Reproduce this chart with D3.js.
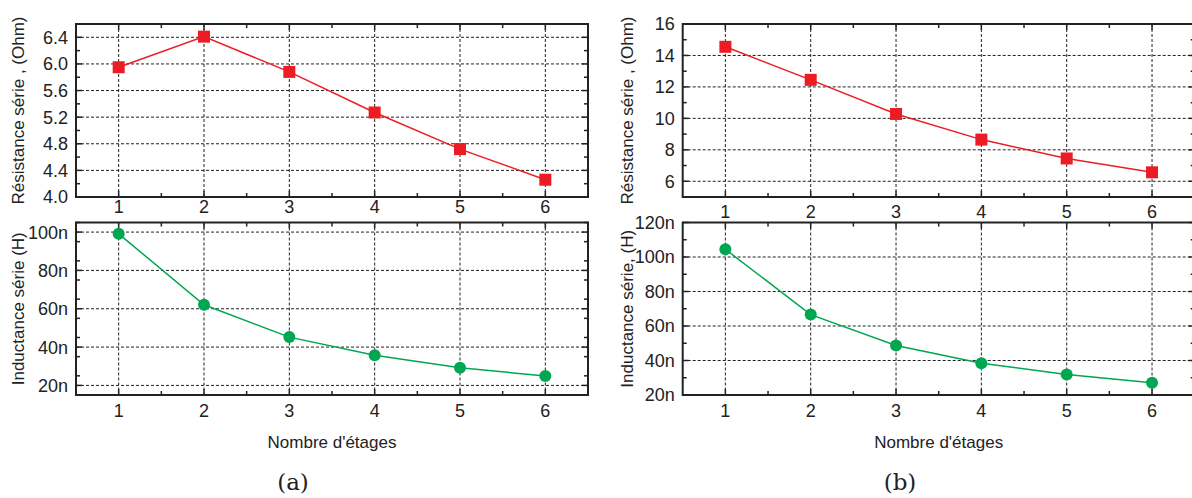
<!DOCTYPE html>
<html><head><meta charset="utf-8">
<script src="https://cdn.jsdelivr.net/npm/d3@7"></script>
<style>body{margin:0;background:#fff}svg{display:block}text{font-family:"Liberation Sans",Arial,sans-serif}text.serif{font-family:"DejaVu Serif",serif}</style>
</head><body>
<svg id="c" width="1192" height="498"></svg>
<script>
const stages = [1, 2, 3, 4, 5, 6];
const resA = [5.95, 6.41, 5.88, 5.27, 4.72, 4.26];
const indA = [99.1, 62.1, 45.2, 35.7, 29.2, 24.9];
const resB = [14.55, 12.45, 10.28, 8.65, 7.45, 6.57];
const indB = [104.5, 66.6, 48.7, 38.4, 31.9, 27.1];
const resATicks = [4.0, 4.4, 4.8, 5.2, 5.6, 6.0, 6.4];
const indATicks = [20, 40, 60, 80, 100];
const resBTicks = [6, 8, 10, 12, 14, 16];
const indBTicks = [20, 40, 60, 80, 100, 120];
const xLabel = "Nombre d'étages";
const resTitle = "Résistance série , (Ohm)";
const indTitleA = "Inductance série (H)";
const indTitleB = "Inductance série, (H)";
const panelLabels = ["(a)", "(b)"];

const RED = "#ed1c24", GREEN = "#00a651";
const svg = d3.select("#c");

function panel(o) {
  const x = d3.scaleLinear().domain([0.5, 6.5]).range([o.left, o.left + 512]);
  const y = d3.scaleLinear().domain(o.ydom).range([o.bottom, o.top]);
  const g = svg.append("g");
  // grid
  g.append("g").selectAll("line").data(stages).join("line")
    .attr("x1", d => x(d)).attr("x2", d => x(d)).attr("y1", o.top).attr("y2", o.bottom)
    .attr("stroke", "#222").attr("stroke-width", 1).attr("stroke-dasharray", "3,2");
  g.append("g").selectAll("line").data(o.yticks.filter(t => t > o.ydom[0] && t < o.ydom[1])).join("line")
    .attr("x1", o.left).attr("x2", o.left + 512).attr("y1", d => y(d)).attr("y2", d => y(d))
    .attr("stroke", "#222").attr("stroke-width", 1).attr("stroke-dasharray", "3,2");
  // ticks inward
  const xMinor = d3.range(1.5, 6.5, 1);
  const yMinor = d3.range(o.ydom[0], o.ydom[1] + 1e-9, o.minor).filter(v => !o.yticks.some(t => Math.abs(t - v) < 1e-6));
  const tk = g.append("g").attr("stroke", "#222").attr("stroke-width", 1.5);
  [[stages, 6], [xMinor, 4]].forEach(([arr, len]) => {
    tk.append("g").selectAll("line").data(arr).join("line")
      .attr("x1", d => x(d)).attr("x2", d => x(d)).attr("y1", o.bottom).attr("y2", o.bottom - len);
    tk.append("g").selectAll("line").data(arr).join("line")
      .attr("x1", d => x(d)).attr("x2", d => x(d)).attr("y1", o.top).attr("y2", o.top + len);
  });
  [[o.yticks, 6], [yMinor, 4]].forEach(([arr, len]) => {
    tk.append("g").selectAll("line").data(arr).join("line")
      .attr("x1", o.left).attr("x2", o.left + len).attr("y1", d => y(d)).attr("y2", d => y(d));
    tk.append("g").selectAll("line").data(arr).join("line")
      .attr("x1", o.left + 512).attr("x2", o.left + 512 - len).attr("y1", d => y(d)).attr("y2", d => y(d));
  });
  // frame
  g.append("rect").attr("x", o.left).attr("y", o.top).attr("width", 512).attr("height", o.bottom - o.top)
    .attr("fill", "none").attr("stroke", "#222").attr("stroke-width", 2);
  // tick labels
  g.append("g").selectAll("text").data(o.yticks).join("text")
    .attr("x", o.left - 8).attr("y", d => y(d)).attr("dy", "0.36em").attr("text-anchor", "end")
    .attr("font-size", 18).attr("fill", "#222").text(d => o.fmt(d));
  g.append("g").selectAll("text").data(stages).join("text")
    .attr("x", d => x(d)).attr("y", o.bottom + o.xlabOff).attr("dy", "0.36em").attr("text-anchor", "middle")
    .attr("font-size", 18).attr("fill", "#222").text(d => d);
  // title
  g.append("text").attr("transform", `translate(${o.titleX},${(o.top + o.bottom) / 2}) rotate(-90)`)
    .attr("text-anchor", "middle").attr("dy", "0.36em").attr("font-size", 17).attr("fill", "#222").text(o.title);
  // line
  g.append("path").datum(o.vals).attr("fill", "none").attr("stroke", o.color).attr("stroke-width", 1.5)
    .attr("d", d3.line().x((d, i) => x(stages[i])).y(d => y(d)));
  if (o.shape === "square") {
    g.append("g").selectAll("rect").data(o.vals).join("rect")
      .attr("x", (d, i) => x(stages[i]) - 6).attr("y", d => y(d) - 6).attr("width", 12).attr("height", 12)
      .attr("fill", o.color);
  } else {
    g.append("g").selectAll("circle").data(o.vals).join("circle")
      .attr("cx", (d, i) => x(stages[i])).attr("cy", d => y(d)).attr("r", 6).attr("fill", o.color);
  }
  return x;
}

const fmt1 = d => d.toFixed(1), fmt0 = d => String(d), fmtn = d => d + "n";
const panels = [
  {left: 76, titleX: 18, res: resA, ind: indA, rdom: [4.0, 6.6], rt: resATicks, rmin: 0.2, rf: fmt1, idom: [15, 105], it: indATicks, ititle: indTitleA, topLab: 10},
  {left: 682.7, titleX: 627, res: resB, ind: indB, rdom: [5, 16], rt: resBTicks, rmin: 1, rf: fmt0, idom: [20, 120], it: indBTicks, ititle: indTitleB, topLab: 15}
];
panels.forEach((p, k) => {
  panel({left: p.left, top: 24, bottom: 197, ydom: p.rdom, yticks: p.rt, minor: p.rmin, fmt: p.rf,
    vals: p.res, color: RED, shape: "square", title: resTitle, titleX: p.titleX, xlabOff: p.topLab});
  const x = panel({left: p.left, top: 222.5, bottom: 395, ydom: p.idom, yticks: p.it, minor: 10, fmt: fmtn,
    vals: p.ind, color: GREEN, shape: "circle", title: p.ititle, titleX: p.titleX, xlabOff: 16});
  svg.append("text").attr("x", x(3.5)).attr("y", 442).attr("dy", "0.36em").attr("text-anchor", "middle")
    .attr("font-size", 17).attr("fill", "#222").text(xLabel);
  svg.append("text").attr("class", "serif").attr("x", k === 0 ? 293 : 900).attr("y", 482).attr("dy", "0.36em").attr("text-anchor", "middle")
    .attr("font-size", 23).attr("fill", "#222").text(panelLabels[k]);
});
</script>
</body></html>
